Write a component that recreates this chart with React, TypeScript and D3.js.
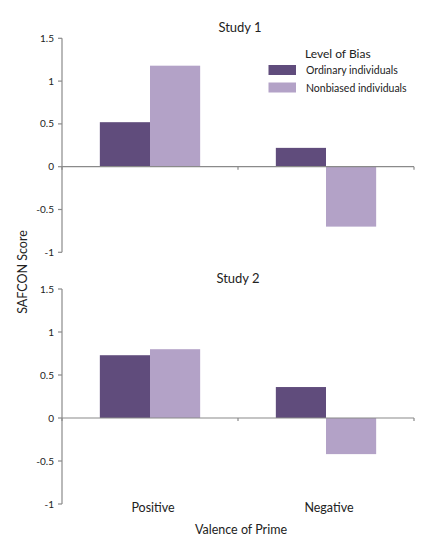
import React from "react";
import * as d3 from "d3";

const categories = ["Positive", "Negative"];
const seriesNames = ["Ordinary individuals", "Nonbiased individuals"];
const study1Ordinary = [0.52, 0.22];
const study1Nonbiased = [1.18, -0.7];
const study2Ordinary = [0.73, 0.36];
const study2Nonbiased = [0.8, -0.42];
const yTicks = [1.5, 1, 0.5, 0, -0.5, -1];
const colors = ["#604c7c", "#b3a2c7"];

const panels = [
  { title: "Study 1", values: [study1Ordinary, study1Nonbiased], top: 38.3, bottom: 252.3, titleY: 32, titleX: 240 },
  { title: "Study 2", values: [study2Ordinary, study2Nonbiased], top: 289, bottom: 504, titleY: 283, titleX: 238 },
];

const font = "Lato, 'Open Sans', sans-serif";

export default function App() {
  const x0 = d3.scaleBand<string>().domain(categories).range([62, 414]).paddingInner(0).paddingOuter(0);
  const groupW = x0.bandwidth() * 0.57;
  const x1 = d3.scaleBand<string>().domain(seriesNames).range([0, groupW]).padding(0);

  return (
    <svg width={430} height={548} style={{ position: "absolute", left: 0, top: 0, background: "#fff" }} fontFamily={font}>
      {panels.map((p, pi) => {
        const y = d3.scaleLinear().domain([-1, 1.5]).range([p.bottom, p.top]);
        const y0 = y(0);
        return (
          <g key={pi}>
            <text x={p.titleX} y={p.titleY} textAnchor="middle" fontSize={13} fill="#222">{p.title}</text>
            {/* bars */}
            {categories.map((c, ci) => {
              const gx = (x0(c) as number) + (x0.bandwidth() - groupW) / 2;
              return seriesNames.map((s, si) => {
                const v = p.values[si][ci];
                const yt = y(Math.max(0, v));
                const yb = y(Math.min(0, v));
                return (
                  <rect key={c + s} x={gx + (x1(s) as number)} y={yt} width={x1.bandwidth()} height={yb - yt} fill={colors[si]} />
                );
              });
            })}
            {/* y axis */}
            <line x1={62} x2={62} y1={p.top} y2={p.bottom} stroke="#8a8a8a" strokeWidth={1.2} />
            {yTicks.map((t) => (
              <g key={t}>
                <line x1={58} x2={62} y1={y(t)} y2={y(t)} stroke="#8a8a8a" strokeWidth={1.2} />
                <text x={54} y={y(t) + 3.5} textAnchor="end" fontSize={10} fill="#222">{t}</text>
              </g>
            ))}
            {/* zero line */}
            <line x1={62} x2={414} y1={y0} y2={y0} stroke="#8a8a8a" strokeWidth={1.2} />
            {[...categories.map((c) => x0(c) as number), 414].map((xx, i) => (
              <line key={i} x1={xx} x2={xx} y1={y0} y2={y0 + 3} stroke="#8a8a8a" strokeWidth={1.2} />
            ))}
          </g>
        );
      })}
      {/* legend */}
      <text x={305} y={58} fontSize={12} fill="#222">Level of Bias</text>
      {seriesNames.map((s, i) => (
        <g key={s}>
          <rect x={268.5} y={65 + i * 17.5} width={27.5} height={10} fill={colors[i]} />
          <text x={306} y={74 + i * 17.5} fontSize={10.5} fill="#222">{s}</text>
        </g>
      ))}
      {/* category labels */}
      {categories.map((c) => (
        <text key={c} x={(x0(c) as number) + x0.bandwidth() / 2 + 3} y={512} textAnchor="middle" fontSize={12.5} fill="#222">{c}</text>
      ))}
      <text x={241} y={534} textAnchor="middle" fontSize={12.5} fill="#222">Valence of Prime</text>
      <text transform="translate(27,272) rotate(-90)" textAnchor="middle" fontSize={12.5} fill="#222">SAFCON Score</text>
    </svg>
  );
}
